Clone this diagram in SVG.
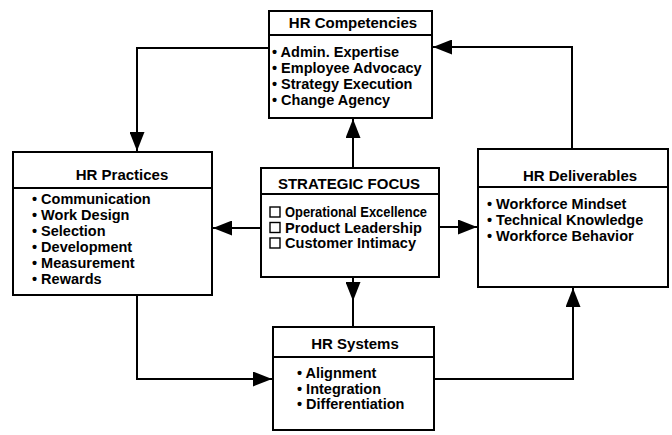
<svg xmlns="http://www.w3.org/2000/svg" width="672" height="435" viewBox="0 0 672 435">
<style>
.box{fill:#fff;stroke:#000;stroke-width:2}
.div{stroke:#000;stroke-width:2}
.t{font-family:"Liberation Sans",Arial,sans-serif;font-weight:bold;font-size:15px;fill:#000;text-anchor:middle}
.i{font-family:"Liberation Sans",Arial,sans-serif;font-weight:bold;font-size:14.5px;fill:#000}
.s{font-size:14px}
.cb{fill:#fff;stroke:#000;stroke-width:1.4}
.c{fill:none;stroke:#000;stroke-width:2}
</style>
<defs>
<marker id="ah" viewBox="0 0 19 15" refX="19" refY="7.5" markerWidth="19" markerHeight="15" markerUnits="userSpaceOnUse" orient="auto">
<path d="M0,0 L19,7.5 L0,15 z" fill="#000"/>
</marker>
</defs>
<rect width="672" height="435" fill="#fff"/>
<g id="connectors">
<path class="c" d="M269,48 H137 V151" marker-end="url(#ah)"/>
<path class="c" d="M572,149 V47 H433" marker-end="url(#ah)"/>
<path class="c" d="M353,168 V119" marker-end="url(#ah)"/>
<path class="c" d="M261,228 H213" marker-end="url(#ah)"/>
<path class="c" d="M439,227 H477" marker-end="url(#ah)"/>
<path class="c" d="M353,277 V327"/>
<path class="c" d="M353,277 V301" marker-end="url(#ah)"/>
<path class="c" d="M137,295 V379 H272" marker-end="url(#ah)"/>
<path class="c" d="M434,379 H573 V288" marker-end="url(#ah)"/>
</g>
<g id="hr-competencies">
<rect class="box" x="269" y="11" width="163" height="107"/>
<line class="div" x1="269" y1="35" x2="432" y2="35"/>
<text class="t" x="353" y="28">HR Competencies</text>
<text class="i" x="272" y="57">• Admin. Expertise</text>
<text class="i" x="272" y="73">• Employee Advocacy</text>
<text class="i" x="272" y="89">• Strategy Execution</text>
<text class="i" x="272" y="105">• Change Agency</text>
</g>
<g id="hr-practices">
<rect class="box" x="13" y="152" width="199" height="143"/>
<line class="div" x1="13" y1="188" x2="212" y2="188"/>
<text class="t" x="122" y="180">HR Practices</text>
<text class="i" x="32" y="204">• Communication</text>
<text class="i" x="32" y="220">• Work Design</text>
<text class="i" x="32" y="236">• Selection</text>
<text class="i" x="32" y="252">• Development</text>
<text class="i" x="32" y="268">• Measurement</text>
<text class="i" x="32" y="284">• Rewards</text>
</g>
<g id="strategic-focus">
<rect class="box" x="261" y="168" width="178" height="109"/>
<line class="div" x1="261" y1="194" x2="439" y2="194"/>
<text class="t" x="349" y="189">STRATEGIC FOCUS</text>
<rect class="cb" x="270" y="207" width="10" height="10"/>
<rect class="cb" x="270" y="222.5" width="10" height="10"/>
<rect class="cb" x="270" y="238" width="10" height="10"/>
<text class="i s" x="285" y="217" textLength="142" lengthAdjust="spacingAndGlyphs">Operational Excellence</text>
<text class="i s" x="285" y="232.5" textLength="137" lengthAdjust="spacingAndGlyphs">Product Leadership</text>
<text class="i s" x="285" y="248" textLength="131" lengthAdjust="spacingAndGlyphs">Customer Intimacy</text>
</g>
<g id="hr-deliverables">
<rect class="box" x="478" y="149" width="190" height="138"/>
<line class="div" x1="478" y1="187" x2="668" y2="187"/>
<text class="t" x="580" y="181">HR Deliverables</text>
<text class="i" x="487" y="209">• Workforce Mindset</text>
<text class="i" x="487" y="225">• Technical Knowledge</text>
<text class="i" x="487" y="241">• Workforce Behavior</text>
</g>
<g id="hr-systems">
<rect class="box" x="273" y="327" width="161" height="103"/>
<line class="div" x1="273" y1="357" x2="434" y2="357"/>
<text class="t" x="355" y="349">HR Systems</text>
<text class="i" x="297" y="378">• Alignment</text>
<text class="i" x="297" y="393.5">• Integration</text>
<text class="i" x="297" y="409">• Differentiation</text>
</g>
</svg>
